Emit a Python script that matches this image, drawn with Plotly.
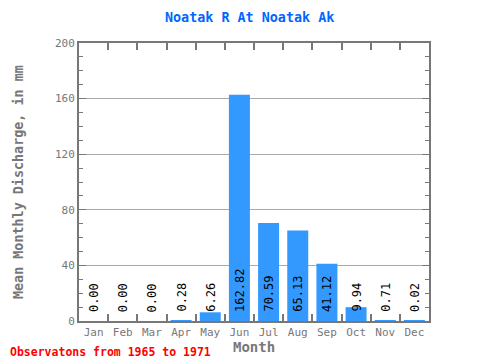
import plotly.graph_objects as go

months = ["Jan", "Feb", "Mar", "Apr", "May", "Jun", "Jul", "Aug", "Sep", "Oct", "Nov", "Dec"]
values = [0.00, 0.00, 0.00, 0.28, 6.26, 162.82, 70.59, 65.13, 41.12, 9.94, 0.71, 0.02]
y_ticks = [0, 40, 80, 120, 160, 200]

MONO = "DejaVu Sans Mono, Liberation Mono, monospace"
GRAY = "#777777"
OFF = 8  # page body margin offset
W, H = 480, 360
L, T = 79 - OFF, 43 - OFF
R = W - (429 - OFF)
B = H - (321 - OFF)
plot_w = W - L - R
plot_h = H - T - B

fig = go.Figure()
fig.add_trace(go.Bar(x=months, y=values, marker=dict(color="#3399ff", line=dict(width=0)),
                     width=0.72, hoverinfo="x+y"))

anns = []
for i, v in enumerate(values):
    anns.append(dict(x=i, y=0, xref="x", yref="y", text="%.2f" % v, textangle=-90,
                     showarrow=False, yanchor="bottom", xanchor="center", yshift=7,
                     font=dict(family=MONO, size=12, color="black")))

anns.append(dict(x=(249 - OFF - L) / plot_w, y=1, xref="paper", yref="paper", yshift=26,
                 yanchor="middle", xanchor="center",
                 text="<b>Noatak R At Noatak Ak</b>", showarrow=False,
                 font=dict(family=MONO, size=13.4, color="#0066ff")))
anns.append(dict(x=(18 - OFF - L) / plot_w, y=0.5, xref="paper", yref="paper",
                 text="<b>Mean Monthly Discharge, in mm</b>", textangle=-90, showarrow=False,
                 xanchor="center", yanchor="middle",
                 font=dict(family=MONO, size=13.4, color=GRAY)))
anns.append(dict(x=0.5, y=0, xref="paper", yref="paper", yshift=-26, text="<b>Month</b>",
                 showarrow=False, yanchor="middle", font=dict(family=MONO, size=14, color=GRAY)))
anns.append(dict(x=(0 - L) / plot_w, y=0, xref="paper", yref="paper",
                 text="<b>Observatons from 1965 to 1971</b>", showarrow=False,
                 xanchor="left", yanchor="middle", yshift=-31,
                 font=dict(family=MONO, size=11.5, color="red")))

fig.update_layout(
    width=W, height=H,
    margin=dict(l=L, r=R, t=T, b=B, autoexpand=False),
    paper_bgcolor="white", plot_bgcolor="white",
    showlegend=False,
    annotations=anns,
)

fig.update_xaxes(
    type="category", range=[-0.5, 11.5], automargin=False, tickangle=0,
    showline=True, linecolor=GRAY, linewidth=2, mirror="ticks",
    ticks="inside", tickson="boundaries", ticklen=7, tickwidth=2, tickcolor=GRAY,
    tickfont=dict(family=MONO, size=11, color=GRAY), showgrid=False,
)
fig.update_yaxes(
    range=[0, 200], tickvals=y_ticks, ticktext=[str(t) for t in y_ticks], automargin=False,
    showline=True, linecolor=GRAY, linewidth=2, mirror="ticks",
    ticks="inside", ticklen=7, tickwidth=1, tickcolor=GRAY,
    minor=dict(dtick=10, ticks="inside", ticklen=4, tickcolor=GRAY, tickwidth=1, showgrid=False),
    showgrid=True, gridcolor="#aaaaaa", gridwidth=1, zeroline=False,
    tickfont=dict(family=MONO, size=11, color=GRAY),
)

fig.write_html("out.html")
